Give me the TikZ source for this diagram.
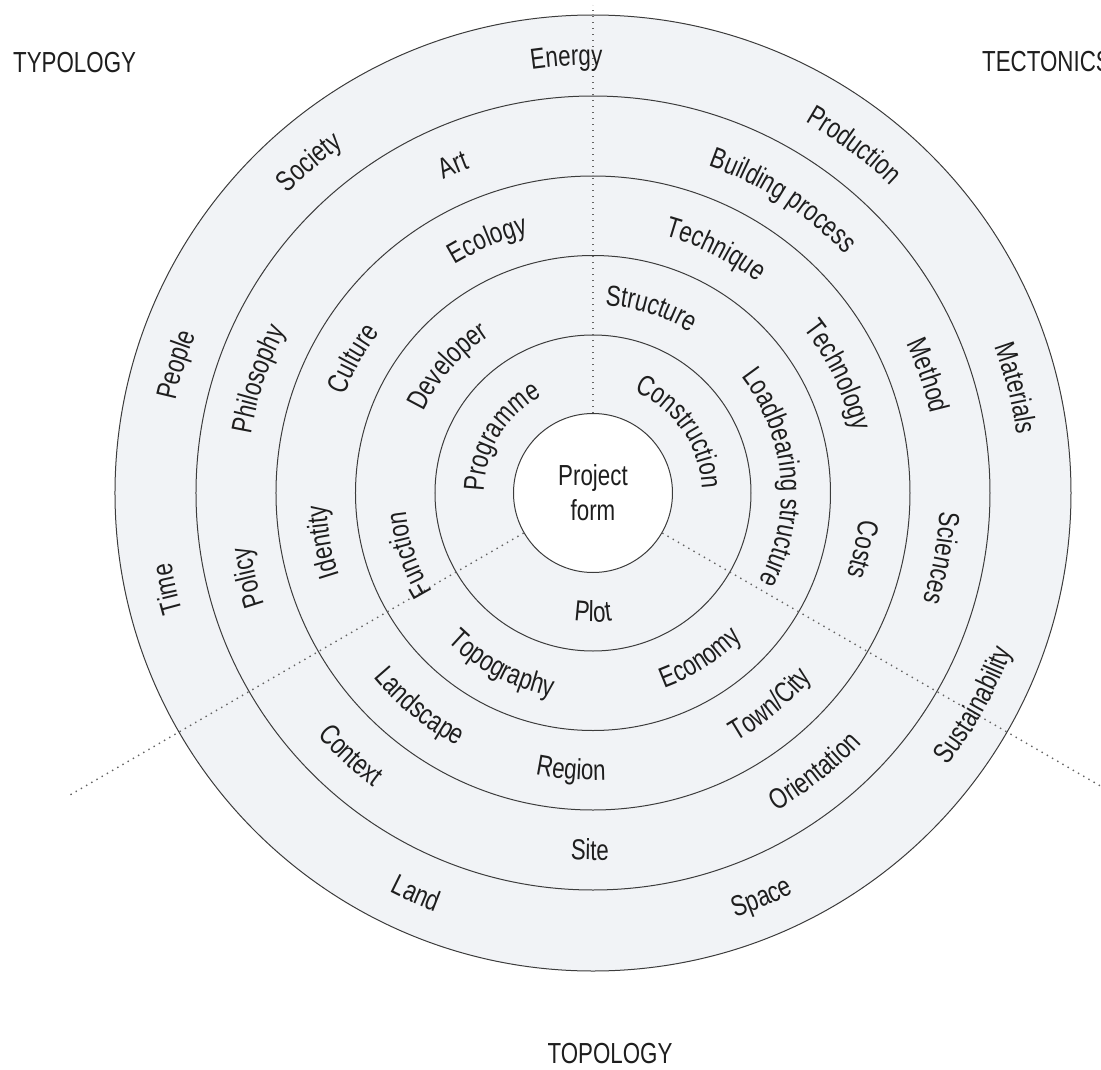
\documentclass[tikz,border=0pt]{standalone}
\usepackage{fontspec}
\setmainfont{Liberation Sans}[FakeStretch=0.77]
\usetikzlibrary{decorations.text}
\definecolor{ringfill}{RGB}{241,243,246}
\definecolor{ringline}{RGB}{60,60,60}
\definecolor{txt}{RGB}{30,30,30}
\definecolor{dotc}{RGB}{100,100,100}
\newcommand\lblfont{\fontsize{29}{34}\selectfont}
% clockwise label (tops outward): ring mid radius, centre angle, text
\newcommand\cwlabel[3]{%
  \pgfmathsetmacro\labR{#1-10}%
  \pgfmathsetmacro\labA{#2+60}%
  \pgfmathsetmacro\labB{#2-60}%
  \path[decorate,decoration={text along path,text={|\lblfont|#3},text align=center,text color=txt}]
    (\labA:\labR) arc[start angle=\labA,end angle=\labB,radius=\labR];}
% counter-clockwise label (tops inward)
\newcommand\ccwlabel[3]{%
  \pgfmathsetmacro\labR{#1+10}%
  \pgfmathsetmacro\labA{#2-60}%
  \pgfmathsetmacro\labB{#2+60}%
  \path[decorate,decoration={text along path,text={|\lblfont|#3},text align=center,text color=txt}]
    (\labA:\labR) arc[start angle=\labA,end angle=\labB,radius=\labR];}
\begin{document}
\begin{tikzpicture}[x=1pt,y=1pt,
  ring/.style={draw=ringline,line width=1pt},
  dotline/.style={draw=dotc,line width=1.4pt,dash pattern=on 1.4pt off 4.6pt},
  title/.style={text=txt,inner sep=0pt,font=\fontsize{29}{34}\selectfont},
  pfnode/.style={circle,draw=ringline,line width=1pt,fill=white,minimum size=159pt,inner sep=0pt,
    align=center,text=txt,font=\fontsize{29}{35}\selectfont}]
\useasboundingbox (-593,-576) rectangle (508,493);
% rings
\fill[ringfill] (0,0) circle[radius=478];
\draw[ring] (0,0) circle[radius=478];
\foreach \r in {397,317,237.5,158} \draw[ring] (0,0) circle[radius=\r];
\node[pfnode] (pf) at (0,0) {Project\\form};
% dotted sector lines
\coordinate (topend) at (0,488);
\coordinate (llend) at (210:606);
\coordinate (lrend) at (-30:600);
\draw[dotline] (pf.north) -- (topend);
\draw[dotline] (pf.210) -- (llend);
\draw[dotline] (pf.-30) -- (lrend);
% titles
\node[title,anchor=base west] (typ) at (-580,420) {TYPOLOGY};
\node[title,anchor=base west] (tec) at (389,421) {TECTONICS};
\node[title,anchor=base] (top) at (17,-570) {TOPOLOGY};
% ring 5
\cwlabel{437.5}{93.5}{Energy}
\cwlabel{437.5}{130.6}{Society}
\cwlabel{437.5}{53.1}{Production}
\cwlabel{437.5}{13.9}{Materials}
\cwlabel{437.5}{162.9}{People}
\cwlabel{437.5}{192.7}{Time}
\ccwlabel{437.5}{246.2}{Land}
\ccwlabel{437.5}{292.6}{Space}
\ccwlabel{437.5}{330.9}{Sustainability}
% ring 4
\cwlabel{357}{113.1}{Art}
\cwlabel{357}{57}{Building process}
\cwlabel{357}{19.3}{Method}
\cwlabel{357}{349.4}{Sciences}
\cwlabel{357}{161.2}{Philosophy}
\cwlabel{357}{193.8}{Policy}
\ccwlabel{357}{227.3}{Context}
\ccwlabel{357}{269.5}{Site}
\ccwlabel{357}{308.5}{Orientation}
% ring 3
\cwlabel{277}{112.6}{Ecology}
\cwlabel{277}{63.3}{Technique}
\cwlabel{277}{25.7}{Technology}
\cwlabel{277}{348.1}{Costs}
\cwlabel{277}{150.8}{Culture}
\cwlabel{277}{190.3}{Identity}
\ccwlabel{277}{230.9}{Landscape}
\ccwlabel{277}{265.5}{Region}
\ccwlabel{277}{309.9}{Town/City}
% ring 2
\cwlabel{198}{138.9}{Developer}
\cwlabel{198}{72.5}{Structure}
\cwlabel{198}{5}{Loadbearing structure}
\cwlabel{198}{198.5}{Function}
\ccwlabel{198}{242.1}{Topography}
\ccwlabel{198}{302.9}{Economy}
% ring 1
\cwlabel{119}{148.6}{Programme}
\cwlabel{119}{35}{Construction}
\ccwlabel{119}{270}{Plot}
\end{tikzpicture}
\end{document}
